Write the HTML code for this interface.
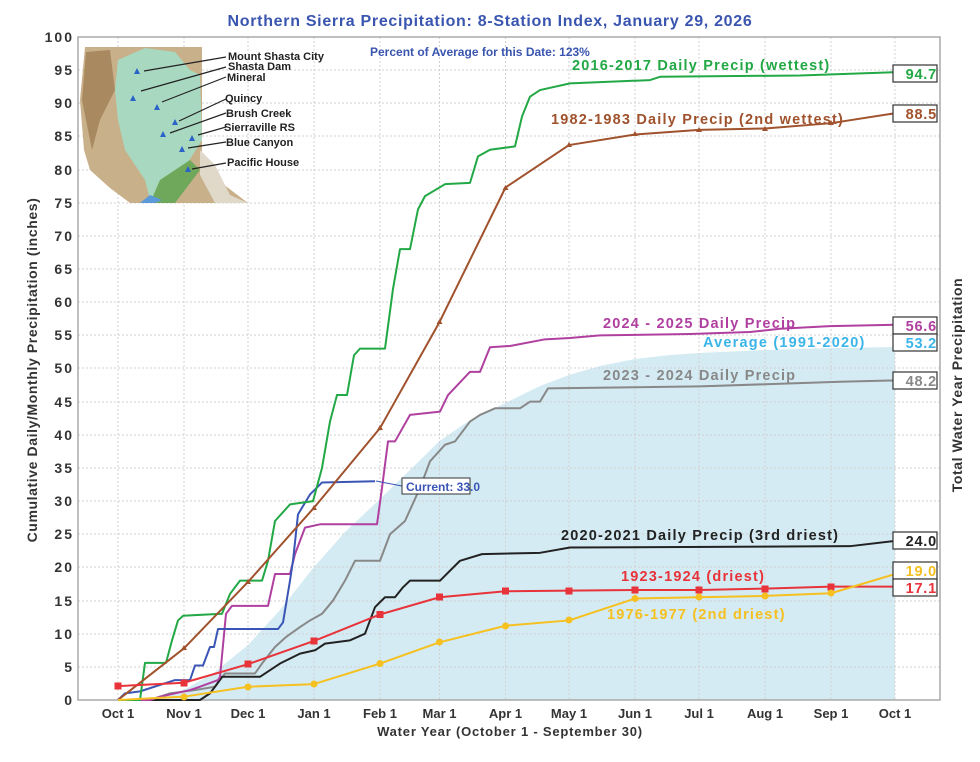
<!DOCTYPE html>
<html><head><meta charset="utf-8"><style>
body{margin:0;background:#fff;}
svg{font-family:"Liberation Sans",sans-serif;font-weight:bold;}
</style></head><body>
<svg width="980" height="757" viewBox="0 0 980 757" xmlns="http://www.w3.org/2000/svg">
<rect width="980" height="757" fill="#fff"/>
<polygon fill="#d4ebf3" points="118,700 150,699 184,690 215,672 248,645 280,610 314,567 345,532 380,499 410,470 439.5,441 470,420 505.5,403 540,386 569,375 600,366 635,359 670,355 699,353 765,350 831,348 895,347 895,700"/>
<g stroke="#d0d0d0" stroke-dasharray="2,2" stroke-width="1">
<path d="M78,667H940M78,634H940M78,601H940M78,567H940M78,534H940M78,501H940M78,468H940M78,435H940M78,402H940M78,368H940M78,335H940M78,302H940M78,269H940M78,236H940M78,203H940M78,170H940M78,136H940M78,103H940M78,70H940"/>
<path d="M118,37V700M184,37V700M248,37V700M314,37V700M380,37V700M439.5,37V700M505.5,37V700M569,37V700M635,37V700M699,37V700M765,37V700M831,37V700M895,37V700"/>
</g>
<rect x="78" y="37" width="862" height="663" fill="none" stroke="#aaa" stroke-width="1.5"/>
<g>
<polygon points="85,47 202,47 202,168 248,203 130,203 110,188 90,170 84,150 80,100" fill="#c8b08a"/>
<polygon points="86,52 110,50 115,90 100,120 92,150 88,130 82,100" fill="#a98a60"/>
<polygon points="118,60 145,48 175,52 190,70 200,75 202,140 180,175 160,200 150,200 145,180 125,150 118,120 115,90" fill="#a8d8c0"/>
<polygon points="160,180 190,160 200,170 175,203 150,203" fill="#6fa85a"/>
<polygon points="150,195 162,200 155,203 140,203" fill="#5a9ad8"/>
<polygon points="200,150 215,165 230,195 248,203 215,203 200,175" fill="#e0d8c8"/>
</g>
<g fill="#2a62c8">
<polygon points="137,68 134,74 140,74"/><polygon points="133,95 130,101 136,101"/><polygon points="157,104 154,110 160,110"/>
<polygon points="175,119 172,125 178,125"/><polygon points="163,131 160,137 166,137"/><polygon points="192,135 189,141 195,141"/>
<polygon points="182,146 179,152 185,152"/><polygon points="188,166 185,172 191,172"/>
</g>
<g stroke="#222" stroke-width="1.2" fill="none">
<path d="M226,57L144,71M226,67L141,91M226,77L162,102M226,99L179,121M226,113L170,133M226,127L198,135M226,142L188,148M226,163L192,169"/>
</g>
<g font-size="11" fill="#222">
<text x="228" y="60">Mount Shasta City</text><text x="228" y="70">Shasta Dam</text><text x="227" y="81">Mineral</text>
<text x="225" y="102">Quincy</text><text x="226" y="117">Brush Creek</text><text x="224" y="131">Sierraville RS</text>
<text x="226" y="146">Blue Canyon</text><text x="227" y="166">Pacific House</text>
</g>
<g transform="translate(0,700) scale(1,-6.63)" fill="none" stroke-width="2" stroke-linejoin="round">
<polyline vector-effect="non-scaling-stroke" stroke="#888" points="118,0 150,0 170,1 195,1.5 215,2 225,4 255,4 262,5.5 275,8 286,9.5 300,11 310,12 322,13 333,15 345,18 355,21 380,21 390,25 405,27 420,32 430,36 445,38.5 455,39 470,42 480,43 495,44 520,44 530,45 540,45 548,47 700,47.3 840,48 895,48.2"/>
<polyline vector-effect="non-scaling-stroke" stroke="#222" points="118,0 200,0 210,1 215,2 222,3.5 260,3.5 270,4.5 280,5.5 300,7 315,7.5 325,8.5 350,9 365,10 375,14 385,15.5 395,15.5 403,17 410,18 440,18 450,19.5 460,21 482,22 540,22.2 570,23 850,23.2 895,24"/>
<polyline vector-effect="non-scaling-stroke" stroke="#b040a0" points="118,0 150,0 160,0.5 190,1.5 200,2 218,3 220,3.5 226,13 232,14.2 268,14.2 275,19 290,19 295,22 305,26 320,26.5 377,26.5 382,32 388,39 395,39 410,43 440,43.5 448,46 470,49.5 480,49.5 490,53.2 510,53.4 545,54.4 570,54.6 600,55 690,55.2 750,55.5 780,56 830,56.4 895,56.6"/>
<polyline vector-effect="non-scaling-stroke" stroke="#3a55b5" points="118,0 125,1 140,1.3 175,3 190,3 195,5.2 203,5.2 210,8 214,8 218,10.7 278,10.7 283,11.7 290,18 293,21 298,28 310,31 322,32.8 375,33"/>
<polyline vector-effect="non-scaling-stroke" stroke="#22a845" points="118,0 140,0 145,5.6 166,5.6 172,9 178,12 183,12.7 222,13 230,16 240,18 262,18 268,21 275,27 290,29.5 313,30 322,35 330,42 337,46 347,46 354,52 360,53 385,53 393,62 400,68 410,68 418,74 425,76 445,77.8 470,78 478,82 490,83 515,83.5 522,88 530,91 540,92 570,93 650,93.5 660,94 800,94.2 895,94.7"/>
<polyline vector-effect="non-scaling-stroke" stroke="#a0522d" points="118,0 184,7.8 248,17.8 314,29 380,41 439.5,57 505.5,77.3 569,83.7 635,85.3 699,86 765,86.2 831,87 895,88.5"/>
<polyline vector-effect="non-scaling-stroke" stroke="#e8333a" points="118,2.1 184,2.6 248,5.4 314,8.9 380,12.9 439.5,15.5 505.5,16.4 569,16.5 635,16.6 699,16.6 765,16.8 831,17.1 895,17.1"/>
<polyline vector-effect="non-scaling-stroke" stroke="#f5c020" points="118,0 184,0.5 248,2 314,2.4 380,5.5 439.5,8.7 505.5,11.2 569,12 635,15.3 699,15.5 765,15.7 831,16.1 895,19"/>
</g>
<g fill="#a0522d">
<polygon points="184,645 181,650 187,650"/><polygon points="248,579 245,584 251,584"/><polygon points="314,505 311,510 317,510"/><polygon points="380,425 377,430 383,430"/><polygon points="439.5,319 436.5,324 442.5,324"/><polygon points="505.5,185 502.5,190 508.5,190"/><polygon points="569,142 566,147 572,147"/><polygon points="635,131 632,136 638,136"/><polygon points="699,127 696,132 702,132"/><polygon points="765,126 762,131 768,131"/><polygon points="831,120 828,125 834,125"/>
</g>
<g fill="#e8333a">
<rect x="114.5" y="682.5" width="7" height="7"/><rect x="180.5" y="679.5" width="7" height="7"/><rect x="244.5" y="660.5" width="7" height="7"/><rect x="310.5" y="637.5" width="7" height="7"/><rect x="376.5" y="611" width="7" height="7"/><rect x="436" y="593.5" width="7" height="7"/><rect x="502" y="587.5" width="7" height="7"/><rect x="565.5" y="587.5" width="7" height="7"/><rect x="631.5" y="586.5" width="7" height="7"/><rect x="695.5" y="586.5" width="7" height="7"/><rect x="761.5" y="585.5" width="7" height="7"/><rect x="827.5" y="583.5" width="7" height="7"/>
</g>
<g fill="#f5c020">
<circle cx="184" cy="697" r="3.5"/><circle cx="248" cy="687" r="3.5"/><circle cx="314" cy="684" r="3.5"/><circle cx="380" cy="663.5" r="3.5"/><circle cx="439.5" cy="642" r="3.5"/><circle cx="505.5" cy="626" r="3.5"/><circle cx="569" cy="620" r="3.5"/><circle cx="635" cy="598.5" r="3.5"/><circle cx="699" cy="597" r="3.5"/><circle cx="765" cy="596" r="3.5"/><circle cx="831" cy="593" r="3.5"/>
</g>
<path d="M402,486L376,481" stroke="#3a55b5" stroke-width="1"/>
<rect x="402" y="478" width="68" height="16" fill="#fff" stroke="#333"/>
<text x="406" y="491" font-size="12" fill="#3a55b5">Current: 33.0</text>
<g font-size="14.5" letter-spacing="1.2">
<text x="572" y="70" fill="#22a845">2016-2017 Daily Precip (wettest)</text>
<text x="551" y="124" fill="#a0522d">1982-1983 Daily Precip (2nd wettest)</text>
<text x="603" y="328" fill="#b040a0">2024 - 2025 Daily Precip</text>
<text x="703" y="347" fill="#3bb5e8">Average (1991-2020)</text>
<text x="603" y="380" fill="#888">2023 - 2024 Daily Precip</text>
<text x="561" y="540" fill="#222">2020-2021 Daily Precip (3rd driest)</text>
<text x="621" y="581" fill="#e8333a">1923-1924 (driest)</text>
<text x="607" y="619" fill="#f5c020">1976-1977 (2nd driest)</text>
</g>
<g fill="#fff" stroke="#333" stroke-width="1.2">
<rect x="893" y="65" width="44" height="17"/><rect x="893" y="105" width="44" height="17"/><rect x="893" y="317" width="44" height="17"/><rect x="893" y="334" width="44" height="17"/><rect x="893" y="372" width="44" height="17"/><rect x="893" y="532" width="44" height="17"/><rect x="893" y="562" width="44" height="17"/><rect x="893" y="579" width="44" height="17"/>
</g>
<g font-size="14.5" text-anchor="end" letter-spacing="0.8">
<text x="937" y="79" fill="#22a845">94.7</text><text x="937" y="119" fill="#a0522d">88.5</text><text x="937" y="331" fill="#b040a0">56.6</text><text x="937" y="348" fill="#3bb5e8">53.2</text><text x="937" y="386" fill="#888">48.2</text><text x="937" y="546" fill="#222">24.0</text><text x="937" y="576" fill="#f5c020">19.0</text><text x="937" y="593" fill="#e8333a">17.1</text>
</g>
<g font-size="14" fill="#333" text-anchor="end" letter-spacing="2">
<text x="74" y="705">0</text><text x="74" y="672">5</text><text x="74" y="639">10</text><text x="74" y="606">15</text><text x="74" y="572">20</text><text x="74" y="539">25</text><text x="74" y="506">30</text><text x="74" y="473">35</text><text x="74" y="440">40</text><text x="74" y="407">45</text><text x="74" y="373">50</text><text x="74" y="340">55</text><text x="74" y="307">60</text><text x="74" y="274">65</text><text x="74" y="241">70</text><text x="74" y="208">75</text><text x="74" y="175">80</text><text x="74" y="141">85</text><text x="74" y="108">90</text><text x="74" y="75">95</text><text x="74" y="42">100</text>
</g>
<g font-size="13" fill="#333" text-anchor="middle">
<text x="118" y="718">Oct 1</text><text x="184" y="718">Nov 1</text><text x="248" y="718">Dec 1</text><text x="314" y="718">Jan 1</text><text x="380" y="718">Feb 1</text><text x="439.5" y="718">Mar 1</text><text x="505.5" y="718">Apr 1</text><text x="569" y="718">May 1</text><text x="635" y="718">Jun 1</text><text x="699" y="718">Jul 1</text><text x="765" y="718">Aug 1</text><text x="831" y="718">Sep 1</text><text x="895" y="718">Oct 1</text>
</g>
<text x="510" y="736" font-size="13" fill="#333" text-anchor="middle" letter-spacing="0.8">Water Year (October 1 - September 30)</text>
<text transform="translate(37,370) rotate(-90)" font-size="14" fill="#333" text-anchor="middle" letter-spacing="0.6">Cumulative Daily/Monthly Precipitation (inches)</text>
<text transform="translate(962,385) rotate(-90)" font-size="14" fill="#333" text-anchor="middle" letter-spacing="0.6">Total Water Year Precipitation</text>
<text x="490" y="26" font-size="16" fill="#3a55b0" text-anchor="middle" letter-spacing="0.7">Northern Sierra Precipitation: 8-Station Index, January 29, 2026</text>
<text x="370" y="56" font-size="12" fill="#3a55b0">Percent of Average for this Date: 123%</text>
</svg>
</body></html>
